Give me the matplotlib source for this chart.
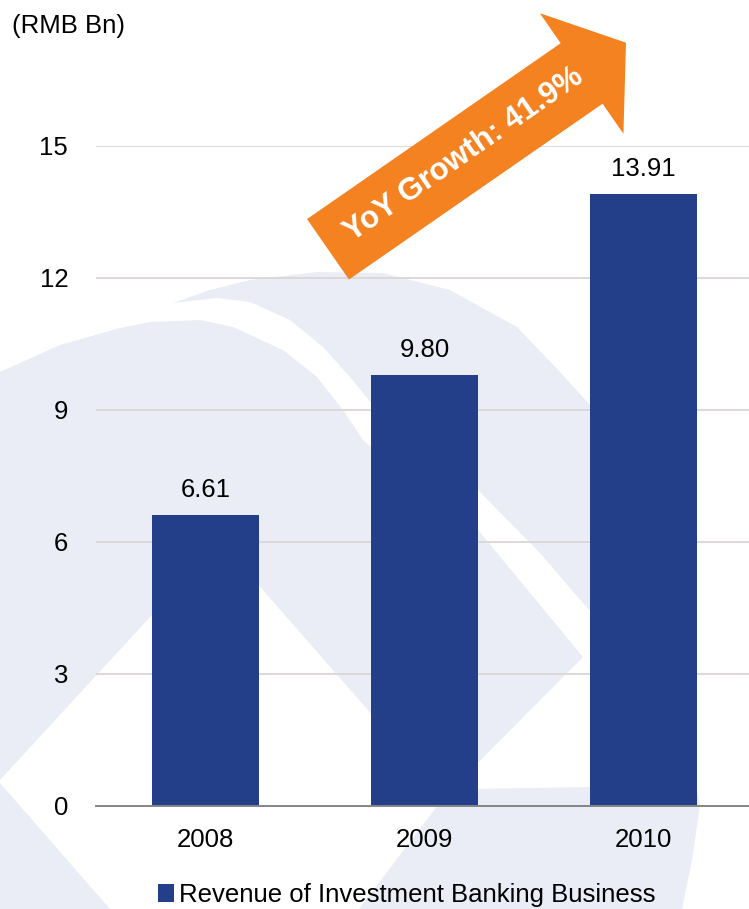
import math
import matplotlib
matplotlib.use("Agg")
import matplotlib.pyplot as plt
from matplotlib.patches import Polygon, FancyArrow

# ---- data -------------------------------------------------------------
years = ["2008", "2009", "2010"]
revenue = [6.61, 9.80, 13.91]          # RMB Bn
y_ticks = [0, 3, 6, 9, 12, 15]
unit_label = "(RMB Bn)"
series_name = "Revenue of Investment Banking Business"
growth_label = "YoY Growth: 41.9%"

# ---- styling ----------------------------------------------------------
W, H = 749, 909
BAR_COLOR = "#233F8A"
ARROW_COLOR = "#F58220"
GRID_COLOR = "#DAD6D4"
WATERMARK = "#EBEDF6"
FS = 18.5

plt.rcParams["font.family"] = ["Liberation Sans", "DejaVu Sans"]

fig = plt.figure(figsize=(W / 100, H / 100), dpi=100)
fig.patch.set_facecolor("white")

# ---- faint logo watermark behind the chart (pixel coordinates) ---------
bg = fig.add_axes([0, 0, 1, 1], zorder=0)
bg.set_xlim(0, W)
bg.set_ylim(H, 0)
bg.axis("off")

upper_band = [(173, 303), (210, 290), (250, 280), (317, 272), (383, 273),
              (450, 290), (517, 327), (560, 372), (590, 405), (620, 455),
              (645, 520), (660, 590), (662, 640), (589, 610), (540, 553),
              (478, 490), (420, 445), (377, 410), (350, 377), (323, 347),
              (290, 320), (250, 302), (217, 298)]
lower_band = [(0, 372), (60, 345), (120, 328), (150, 322), (200, 320),
              (233, 327), (283, 350), (317, 377), (343, 410), (363, 440),
              (420, 490), (478, 530), (583, 657), (444, 797), (220, 541),
              (0, 780)]
corner_piece = [(0, 783), (110, 909), (0, 909)]
base_piece = [(444, 797), (470, 789), (589, 787), (696, 787), (700, 805),
              (692, 860), (682, 909), (359, 909)]
for shape in (upper_band, lower_band, corner_piece, base_piece):
    bg.add_patch(Polygon(shape, closed=True, facecolor=WATERMARK,
                         edgecolor="none"))

# ---- main bar chart ---------------------------------------------------
ax = fig.add_axes([96 / W, (H - 805.7) / H, (W - 96) / W, 660 / H], zorder=1)
ax.patch.set_alpha(0)

x = list(range(len(years)))
bars = ax.bar(x, revenue, width=0.489, color=BAR_COLOR, zorder=3,
              label=series_name)
ax.set_xlim(-0.5, 2.482)
ax.set_ylim(0, 15)
ax.set_yticks(y_ticks)
ax.set_xticks(x, years)

ax.yaxis.grid(True, color=GRID_COLOR, linewidth=1.3)
ax.set_axisbelow(True)
for side in ("left", "right", "top"):
    ax.spines[side].set_visible(False)
ax.spines["bottom"].set_color("#858585")
ax.spines["bottom"].set_linewidth(1.4)
ax.spines["bottom"].set_zorder(4)

ax.tick_params(axis="both", length=0, labelsize=FS, labelcolor="black")
ax.tick_params(axis="y", pad=20)
ax.tick_params(axis="x", pad=16)

ax.bar_label(bars, fmt="%.2f", padding=9.0, fontsize=FS, color="black")

# unit caption
fig.text(12 / W, 1 - 33 / H, unit_label, fontsize=FS, va="baseline",
         ha="left")

# legend
fig.legend(handles=[bars], labels=[series_name], loc="center left",
           bbox_to_anchor=(158 / W, 1 - 895 / H), frameon=False,
           fontsize=FS, handlelength=0.62, handleheight=0.66,
           handletextpad=0.19, borderpad=0, borderaxespad=0)

# ---- growth arrow overlay ---------------------------------------------
ov = fig.add_axes([0, 0, 1, 1], zorder=3)
ov.set_xlim(0, W)
ov.set_ylim(H, 0)
ov.axis("off")

tail = (328.0, 249.3)
tip = (626.0, 42.7)
dx, dy = tip[0] - tail[0], tip[1] - tail[1]
ov.add_patch(FancyArrow(tail[0], tail[1], dx, dy, width=73.6,
                        head_width=146.7, head_length=54,
                        length_includes_head=True, facecolor=ARROW_COLOR,
                        edgecolor="none"))
angle = math.degrees(math.atan2(-dy, dx))
ov.text(464, 155, growth_label, rotation=angle, rotation_mode="anchor",
        ha="center", va="center", color="white", fontsize=22.5,
        fontweight="bold")

fig.savefig("out.png", dpi=100)
